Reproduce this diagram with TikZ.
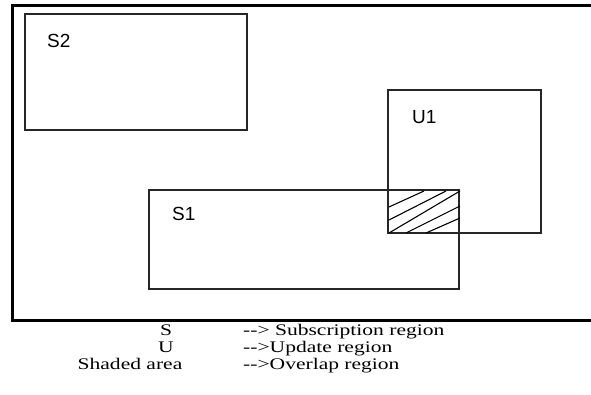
\documentclass[tikz,border=0pt]{standalone}
\usepackage{fontspec}
\setmainfont{Liberation Serif}
\newfontfamily\labelfont{Liberation Sans}
\newfontfamily\legendfont[FakeStretch=1.33]{Liberation Serif}
\begin{document}
\begin{tikzpicture}[x=1pt,y=-1pt,
  region/.style={draw=black!85,line width=1.3pt,inner sep=0pt,outer sep=0pt,anchor=north west},
  lbl/.style={font=\labelfont\fontsize{19}{22}\selectfont,inner sep=0pt},
  legend/.style={font=\legendfont\fontsize{16.2}{18}\selectfont,inner sep=0pt},
  hatch/.style={line width=1.1pt}]
\useasboundingbox (0,0) rectangle (591,395);
% outer frame (right side open)
\draw[line width=3pt] (591,6) -- (12.5,6) -- (12.5,320.5) -- (591,320.5);
% regions
\node[region,minimum width=222pt,minimum height=116pt] (S2) at (25,14) {};
\node[region,minimum width=310pt,minimum height=99pt] (S1) at (149,190) {};
\node[region,minimum width=153pt,minimum height=143pt] (U1) at (388,90) {};
% labels
\node[lbl,anchor=west] (tS2) at (47,41) {S2};
\node[lbl,anchor=west] (tU1) at (412,117) {U1};
\node[lbl,anchor=west] (tS1) at (172,214) {S1};
% hatching of overlap
\coordinate (h1a) at (389,207); \coordinate (h1b) at (424,191);
\coordinate (h2a) at (389,220); \coordinate (h2b) at (446,191);
\coordinate (h3a) at (389,233); \coordinate (h3b) at (460,191);
\coordinate (h4a) at (406,233); \coordinate (h4b) at (460,206);
\coordinate (h5a) at (426,233); \coordinate (h5b) at (460,218);
\draw[hatch] (h1a) -- (h1b) (h2a) -- (h2b) (h3a) -- (h3b) (h4a) -- (h4b) (h5a) -- (h5b);
% legend
\node[legend,anchor=base] (kS) at (166,335) {S};
\node[legend,anchor=base] (kU) at (166,352) {U};
\node[legend,anchor=base] (kSh) at (130,369) {Shaded area};
\node[legend,anchor=base west] (vS) at (243,335) {-{}-> Subscription region};
\node[legend,anchor=base west] (vU) at (243,352) {-{}->Update region};
\node[legend,anchor=base west] (vSh) at (243,369) {-{}->Overlap region};
\end{tikzpicture}
\end{document}
